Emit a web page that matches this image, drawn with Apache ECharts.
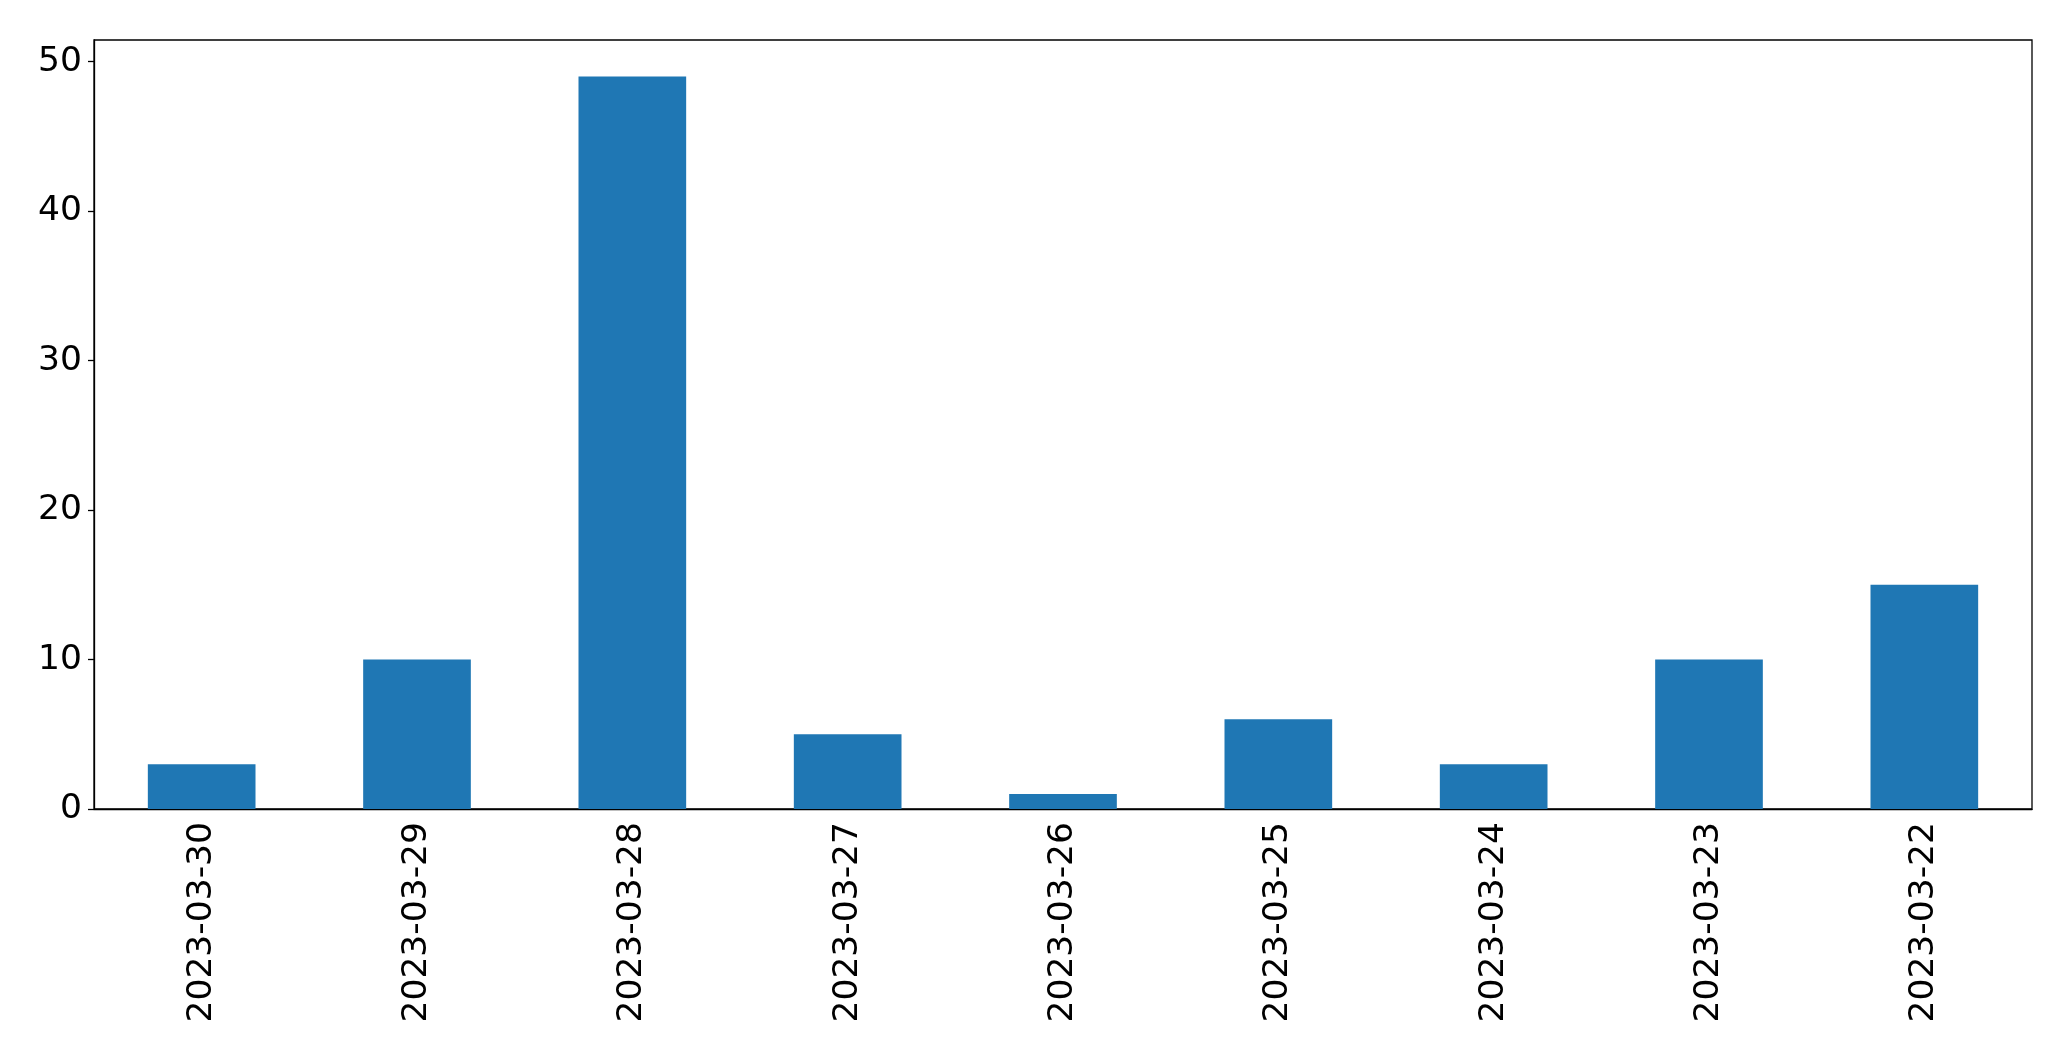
<!DOCTYPE html>
<html>
<head>
<meta charset="utf-8">
<script src="https://cdn.jsdelivr.net/npm/echarts@6/dist/echarts.min.js"></script>
<style>
html,body{margin:0;padding:0;background:#fff;}
#chart{width:2071px;height:1061px;}
</style>
</head>
<body>
<div id="chart"></div>
<script>
const categories = ["2023-03-30","2023-03-29","2023-03-28","2023-03-27","2023-03-26","2023-03-25","2023-03-24","2023-03-23","2023-03-22"];
const values = [3, 10, 49, 5, 1, 6, 3, 10, 15];
const yTicks = [0, 10, 20, 30, 40, 50];

const chart = echarts.init(document.getElementById('chart'));
const font = 'DejaVu Sans';
chart.setOption({
  animation: false,
  grid: {left: 94, right: 39, top: 40, bottom: 252, show: true, borderColor: '#000', borderWidth: 1.3, backgroundColor: 'transparent'},
  xAxis: {
    type: 'category',
    data: categories,
    axisLine: {lineStyle: {color: '#000', width: 1.3}},
    axisTick: {alignWithLabel: true, length: 6, lineStyle: {color: '#000', width: 1.3}},
    axisLabel: {rotate: 90, margin: 13, fontSize: 34.5, fontFamily: font, color: '#000', interval: 0}
  },
  yAxis: {
    type: 'value',
    min: 0,
    max: 51.45,
    interval: 10,
    splitLine: {show: false},
    axisLine: {show: true, lineStyle: {color: '#000', width: 1.3}},
    axisTick: {show: true, length: 6, lineStyle: {color: '#000', width: 1.3}, customValues: yTicks},
    axisLabel: {margin: 12, fontSize: 34.5, fontFamily: font, color: '#000', customValues: yTicks}
  },
  series: [{
    type: 'bar',
    data: values,
    barWidth: '50%',
    itemStyle: {color: '#1f77b4'}
  }]
});
</script>
</body>
</html>
